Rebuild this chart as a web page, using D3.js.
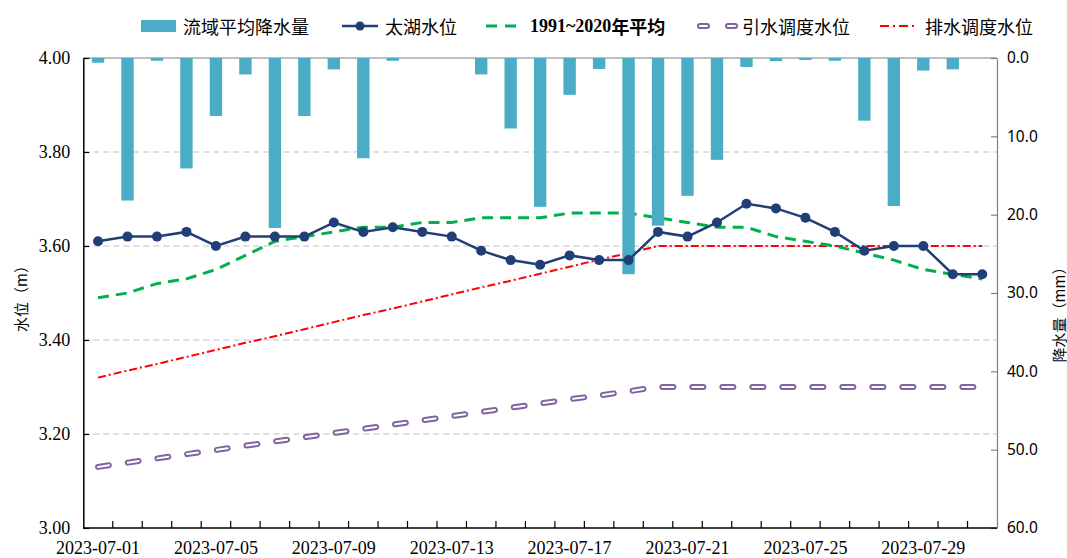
<!DOCTYPE html>
<html>
<head>
<meta charset="utf-8">
<script src="https://cdn.jsdelivr.net/npm/d3@7"></script>
<style>
  body { margin: 0; background: #fff; }
  svg { display: block; }
</style>
</head>
<body>
<svg id="chart" width="1067" height="558"></svg>
<script>
//------------------------------------data--------------------------------------

const dates = d3.timeDay.range(new Date(2023, 6, 1), new Date(2023, 7, 1));

//流域平均降水量 (mm), right axis, reversed
const rain = [0.6, 18.2, 0.35, 14.1, 7.4, 2.1, 21.7, 7.4, 1.45, 12.8,
  0.35, 0, 0, 2.1, 9.0, 19.0, 4.7, 1.4, 27.6, 21.4,
  17.6, 13.0, 1.15, 0.4, 0.25, 0.35, 8.0, 18.9, 1.6, 1.45, 0];

//太湖水位 (m)
const taihu = [3.61, 3.62, 3.62, 3.63, 3.60, 3.62, 3.62, 3.62, 3.65, 3.63,
  3.64, 3.63, 3.62, 3.59, 3.57, 3.56, 3.58, 3.57, 3.57, 3.63,
  3.62, 3.65, 3.69, 3.68, 3.66, 3.63, 3.59, 3.60, 3.60, 3.54, 3.54];

//1991~2020年平均 (m)
const avg = [3.49, 3.50, 3.52, 3.53, 3.55, 3.58, 3.61, 3.62, 3.63, 3.64,
  3.64, 3.65, 3.65, 3.66, 3.66, 3.66, 3.67, 3.67, 3.67, 3.66,
  3.65, 3.64, 3.64, 3.62, 3.61, 3.60, 3.585, 3.57, 3.55, 3.54, 3.53];

//引水调度水位 (m)
const intake = [3.130, 3.139, 3.148, 3.157, 3.166, 3.175, 3.184, 3.193, 3.202, 3.211,
  3.220, 3.229, 3.238, 3.247, 3.256, 3.265, 3.274, 3.282, 3.291, 3.300,
  3.30, 3.30, 3.30, 3.30, 3.30, 3.30, 3.30, 3.30, 3.30, 3.30, 3.30];

//排水调度水位 (m)
const drain = [3.320, 3.335, 3.349, 3.364, 3.379, 3.394, 3.408, 3.423, 3.438, 3.453,
  3.467, 3.482, 3.497, 3.512, 3.526, 3.541, 3.556, 3.571, 3.585, 3.600,
  3.60, 3.60, 3.60, 3.60, 3.60, 3.60, 3.60, 3.60, 3.60, 3.60, 3.60];

const levelTicks = [3.0, 3.2, 3.4, 3.6, 3.8, 4.0];
const rainTicks = [0, 10, 20, 30, 40, 50, 60];
const labelEvery = 4;

//----------------------------------layout--------------------------------------

const svg = d3.select("#chart");
const plot = {left: 83.3, right: 997, top: 58, bottom: 528};

const serif = "'Liberation Serif', 'Times New Roman', serif";
const cjk = "'Noto Sans CJK SC', sans-serif";

const x = d3.scaleBand()
    .domain(dates)
    .range([plot.left, plot.right])
    .paddingInner(0.58)
    .paddingOuter(0.29);
const cx = d => x(d) + x.bandwidth() / 2;

const yL = d3.scaleLinear().domain([3, 4]).range([plot.bottom, plot.top]);
const yR = d3.scaleLinear().domain([0, 60]).range([plot.top, plot.bottom]);

const fmtDate = d3.timeFormat("%Y-%m-%d");

//Grid lines (dashed, light gray)
svg.append("g")
  .selectAll("line")
  .data(levelTicks.filter(v => v > 3 && v < 4))
  .enter().append("line")
    .attr("x1", plot.left).attr("x2", plot.right)
    .attr("y1", d => yL(d)).attr("y2", d => yL(d))
    .attr("stroke", "#bfbfbf")
    .attr("stroke-width", 1.2)
    .attr("stroke-dasharray", "6,4");

//Top border
svg.append("line")
  .attr("x1", plot.left).attr("x2", plot.right)
  .attr("y1", plot.top).attr("y2", plot.top)
  .attr("stroke", "#7f7f7f").attr("stroke-width", 1.2);

//--------------------------------line series-----------------------------------

const line = d3.line()
    .x((d, i) => cx(dates[i]))
    .y(d => yL(d));

//排水调度水位
svg.append("path")
  .attr("d", line(drain))
  .attr("fill", "none")
  .attr("stroke", "#ff0000")
  .attr("stroke-width", 2)
  .attr("stroke-dasharray", "8,3,2,3");

//1991~2020年平均
svg.append("path")
  .attr("d", line(avg))
  .attr("fill", "none")
  .attr("stroke", "#00b050")
  .attr("stroke-width", 3)
  .attr("stroke-dasharray", "11,7");

//引水调度水位, double line dashes (outer purple, inner white)
svg.append("path")
  .attr("d", line(intake))
  .attr("fill", "none")
  .attr("stroke", "#8064a2")
  .attr("stroke-width", 6)
  .attr("stroke-linecap", "round")
  .attr("stroke-dasharray", "11,19");
svg.append("path")
  .attr("d", line(intake))
  .attr("fill", "none")
  .attr("stroke", "#ffffff")
  .attr("stroke-width", 2)
  .attr("stroke-linecap", "round")
  .attr("stroke-dasharray", "11,19");

//---------------------------------rain bars------------------------------------

svg.append("g")
  .selectAll("rect")
  .data(rain)
  .enter().append("rect")
    .attr("x", (d, i) => x(dates[i]))
    .attr("y", yR(0))
    .attr("width", x.bandwidth())
    .attr("height", d => yR(d) - yR(0))
    .attr("fill", "#4bacc6");

//---------------------------------太湖水位-------------------------------------

svg.append("path")
  .attr("d", line(taihu))
  .attr("fill", "none")
  .attr("stroke", "#213f77")
  .attr("stroke-width", 2.5);

svg.append("g")
  .selectAll("circle")
  .data(taihu)
  .enter().append("circle")
    .attr("cx", (d, i) => cx(dates[i]))
    .attr("cy", d => yL(d))
    .attr("r", 5)
    .attr("fill", "#213f77");

//-----------------------------------axes---------------------------------------

//Left axis (水位)
const axL = svg.append("g")
  .attr("transform", `translate(${plot.left},0)`)
  .call(d3.axisLeft(yL).tickValues(levelTicks).tickFormat(d3.format(".2f"))
    .tickSizeInner(-6).tickSizeOuter(0).tickPadding(13));
axL.select(".domain").attr("stroke", "#000").attr("stroke-width", 1.5);
axL.selectAll(".tick line").attr("stroke", "#000").attr("stroke-width", 1.2);
axL.selectAll("text")
  .style("font-family", serif).style("font-size", "18px").attr("fill", "#000");

//Right axis (降水量)
const axR = svg.append("g")
  .attr("transform", `translate(${plot.right},0)`)
  .call(d3.axisRight(yR).tickValues(rainTicks).tickFormat(d3.format(".1f"))
    .tickSizeInner(-6).tickSizeOuter(0).tickPadding(10));
axR.select(".domain").attr("stroke", "#7f7f7f").attr("stroke-width", 1.2);
axR.selectAll(".tick line").attr("stroke", "#7f7f7f").attr("stroke-width", 1.2);
axR.selectAll("text")
  .style("font-family", "'Noto Sans', sans-serif").style("font-size", "15.5px").attr("fill", "#000");

//Bottom axis: ticks at category boundaries, labels centered on categories
const boundaries = d3.range(dates.length + 1).map(i => plot.left + i * x.step());
const axB = svg.append("g");
axB.append("line")
  .attr("x1", plot.left).attr("x2", plot.right)
  .attr("y1", plot.bottom).attr("y2", plot.bottom)
  .attr("stroke", "#000").attr("stroke-width", 1.5);
axB.selectAll(".btick")
  .data(boundaries.slice(1, -1))
  .enter().append("line")
    .attr("class", "btick")
    .attr("x1", d => d).attr("x2", d => d)
    .attr("y1", plot.bottom).attr("y2", plot.bottom - 7)
    .attr("stroke", "#000").attr("stroke-width", 1.2);
axB.selectAll("text")
  .data(dates.filter((d, i) => i % labelEvery === 0))
  .enter().append("text")
    .attr("x", d => cx(d))
    .attr("y", 554)
    .attr("text-anchor", "middle")
    .style("font-family", serif)
    .style("font-size", "18px")
    .text(d => fmtDate(d));

//Axis titles
svg.append("text")
  .attr("transform", "translate(20,295) rotate(-90)")
  .attr("text-anchor", "middle")
  .attr("dominant-baseline", "central")
  .style("font-family", cjk).style("font-size", "15px")
  .text("水位（m）");

svg.append("text")
  .attr("transform", "translate(1058,311) rotate(-90)")
  .attr("text-anchor", "middle")
  .attr("dominant-baseline", "central")
  .style("font-family", cjk).style("font-size", "15px")
  .text("降水量（mm）");

//----------------------------------legend--------------------------------------

const lg = svg.append("g");
const ly = 26;
const legendFont = g => g.style("font-family", cjk).style("font-size", "18px")
  .attr("dominant-baseline", "central");

lg.append("rect").attr("x", 141).attr("y", 20).attr("width", 35).attr("height", 12)
  .attr("fill", "#4bacc6");
lg.append("text").attr("x", 183).attr("y", ly).call(legendFont).text("流域平均降水量");

lg.append("line").attr("x1", 342).attr("x2", 378).attr("y1", ly).attr("y2", ly)
  .attr("stroke", "#213f77").attr("stroke-width", 2.5);
lg.append("circle").attr("cx", 360).attr("cy", ly).attr("r", 4.5).attr("fill", "#213f77");
lg.append("text").attr("x", 385).attr("y", ly).call(legendFont).text("太湖水位");

lg.append("line").attr("x1", 486).attr("x2", 517).attr("y1", ly).attr("y2", ly)
  .attr("stroke", "#00b050").attr("stroke-width", 3).attr("stroke-dasharray", "11,8");
lg.append("text").attr("x", 530).attr("y", ly).call(legendFont)
  .style("font-weight", "bold")
  .html(`<tspan style="font-family:${serif}">1991~2020</tspan>年平均`);

lg.append("line").attr("x1", 700).attr("x2", 735).attr("y1", ly).attr("y2", ly)
  .attr("stroke", "#8064a2").attr("stroke-width", 6).attr("stroke-linecap", "round")
  .attr("stroke-dasharray", "7,21");
lg.append("line").attr("x1", 700).attr("x2", 735).attr("y1", ly).attr("y2", ly)
  .attr("stroke", "#fff").attr("stroke-width", 2).attr("stroke-linecap", "round")
  .attr("stroke-dasharray", "7,21");
lg.append("text").attr("x", 742).attr("y", ly).call(legendFont).text("引水调度水位");

lg.append("line").attr("x1", 880).attr("x2", 916).attr("y1", ly).attr("y2", ly)
  .attr("stroke", "#ff0000").attr("stroke-width", 2).attr("stroke-dasharray", "9,4,2,4");
lg.append("text").attr("x", 925).attr("y", ly).call(legendFont).text("排水调度水位");
</script>
</body>
</html>
